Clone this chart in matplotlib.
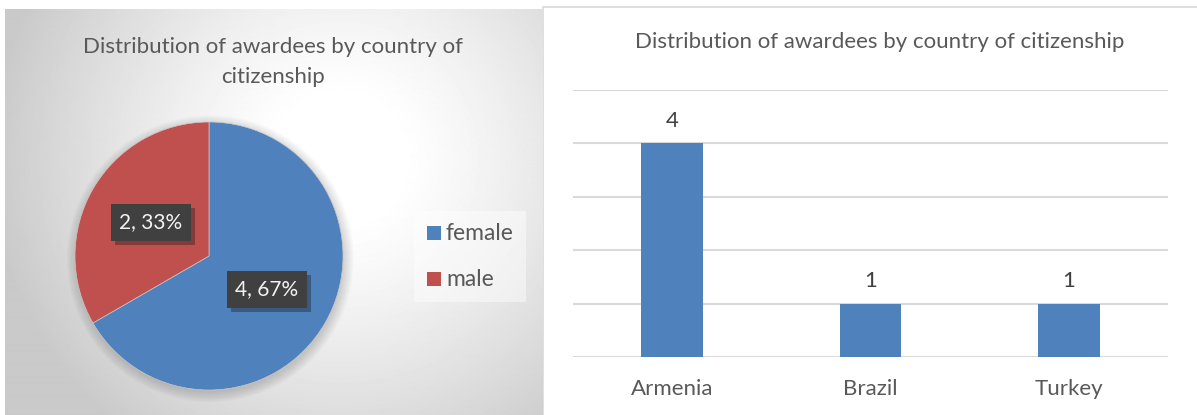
import numpy as np
import matplotlib
matplotlib.use("Agg")
import matplotlib.pyplot as plt
import matplotlib.patheffects as pe
from matplotlib.patches import Circle, Rectangle

plt.rcParams['font.family'] = ['Lato', 'DejaVu Sans']

# data
title = "Distribution of awardees by country of citizenship"
genders = ["female", "male"]
gender_counts = [4, 2]
countries = ["Armenia", "Brazil", "Turkey"]
country_counts = [4, 1, 1]

W, H = 1197, 415
fig = plt.figure(figsize=(W / 100, H / 100), dpi=100)
fig.patch.set_facecolor("white")

# left panel with radial gradient background
bg = fig.add_axes([5 / W, 0, 538 / W, 406 / H])
bg.set_axis_off()
yy, xx = np.mgrid[0:406, 0:538]
r = np.hypot(xx - 335, yy - 150)
shade = np.clip(1.0 - 0.21 * np.clip((r - 60) / 290, 0, 1) ** 1.2, 0, 1)
bg.imshow(shade, cmap="gray", vmin=0, vmax=1, aspect="auto",
          extent=[0, 538, 406, 0], interpolation="bilinear")
bg.set_xlim(0, 538)
bg.set_ylim(406, 0)

fig.text(273 / W, 1 - 47 / H, "Distribution of awardees by country of",
         ha="center", va="center", fontsize=16, color="#595959")
fig.text(273 / W, 1 - 77 / H, "citizenship",
         ha="center", va="center", fontsize=16, color="#595959")

# pie
pie_ax = fig.add_axes([(209 - 134) / W, (415 - 390) / H, 268 / W, 268 / H])
pie_ax.set_axis_off()

for k in range(8):
    pie_ax.add_patch(Circle((0.01, -0.02), 1.0 + 0.01 * k, color="black",
                            alpha=0.018, lw=0, clip_on=False))

total = sum(gender_counts)
wedges, texts, autotexts = pie_ax.pie(
    gender_counts, colors=["#4F81BD", "#C0504D"], startangle=90,
    counterclock=False, pctdistance=0.5,
    autopct=lambda p: f"{int(round(p * total / 100))}, {p:.0f}%",
    textprops=dict(color="#F2F2F2", fontsize=15),
    wedgeprops=dict(linewidth=0.5, edgecolor="#c8c8c8"))
pie_ax.set_xlim(-1, 1)
pie_ax.set_ylim(-1, 1)
for t in autotexts:
    t.set_bbox(dict(boxstyle="square,pad=0.4", facecolor="#404040",
                    edgecolor="none"))
    t.get_bbox_patch().set_path_effects(
        [pe.SimplePatchShadow(offset=(3, -3), alpha=0.35), pe.Normal()])

# legend
leg_bg = Rectangle((414 / W, 1 - 302 / H), 112 / W, 91 / H,
                   transform=fig.transFigure, facecolor="white", alpha=0.45,
                   edgecolor="none")
fig.patches.append(leg_bg)
leg_y = [233, 279]
for name, col, y in zip(genders, ["#4F81BD", "#C0504D"], leg_y):
    fig.patches.append(Rectangle((427 / W, 1 - (y + 7) / H), 14 / W, 14 / H,
                                 transform=fig.transFigure, facecolor=col,
                                 edgecolor="none"))
    fig.text(446 / W, 1 - y / H, name, ha="left", va="center",
             fontsize=16.5, color="#595959")

# right panel border
fig.patches.append(Rectangle((543 / W, -0.01), 0.7, 1 - 7 / H + 0.01,
                             transform=fig.transFigure, facecolor="white",
                             edgecolor="#d9d9d9", lw=1.2, zorder=-1))

# bar chart
ax = fig.add_axes([573 / W, (415 - 357) / H, 595 / W, 267 / H])
ax.set_zorder(5)
x = np.arange(len(countries))
bars = ax.bar(x, country_counts, width=0.31, color="#4F81BD", zorder=3)
ax.set_xlim(-0.5, len(countries) - 0.5)
ax.set_ylim(0, 5)
ax.set_yticks(range(0, 6))
ax.yaxis.grid(True, color="#d9d9d9", lw=1.5)
ax.tick_params(axis="y", left=False, labelleft=False)
ax.tick_params(axis="x", bottom=False, labelsize=16, labelcolor="#595959",
               pad=12)
ax.set_xticks(x)
ax.set_xticklabels(countries)
for s in ax.spines.values():
    s.set_visible(False)
ax.set_facecolor("none")
ax.bar_label(bars, padding=9, fontsize=16, color="#404040")

fig.text(880 / W, 1 - 42 / H, title, ha="center", va="center",
         fontsize=16, color="#595959")

fig.savefig("out.png", dpi=100)
